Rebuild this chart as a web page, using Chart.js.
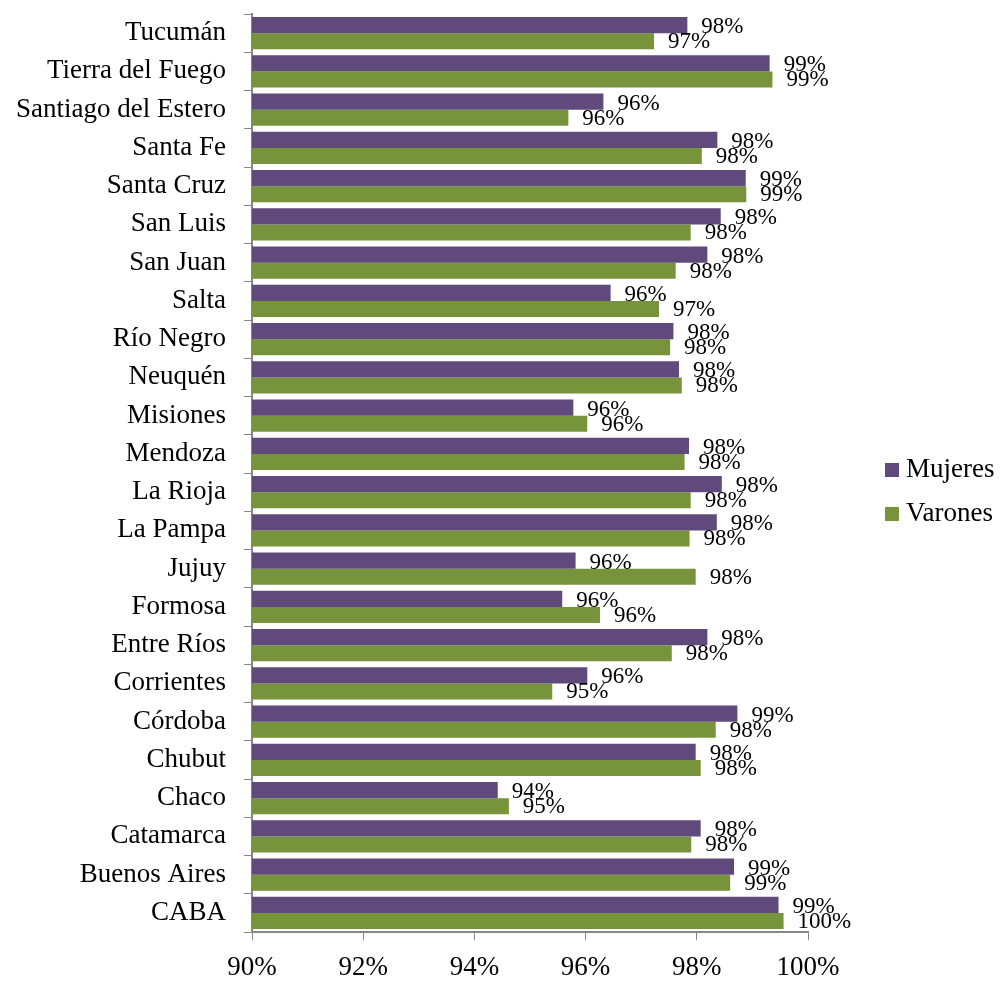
<!DOCTYPE html>
<html>
<head>
<meta charset="utf-8">
<title>Provincias</title>
<script src="https://cdn.jsdelivr.net/npm/chart.js@4.4.1/dist/chart.umd.min.js"></script>
<style>
  html, body { margin: 0; padding: 0; background: #fff; }
  #wrap { width: 1000px; height: 981px; }
</style>
</head>
<body>
<div id="wrap"><canvas id="provChart"></canvas></div>
<script>
const provinces = [
  'Tucumán', 'Tierra del Fuego', 'Santiago del Estero', 'Santa Fe', 'Santa Cruz',
  'San Luis', 'San Juan', 'Salta', 'Río Negro', 'Neuquén', 'Misiones', 'Mendoza',
  'La Rioja', 'La Pampa', 'Jujuy', 'Formosa', 'Entre Ríos', 'Corrientes',
  'Córdoba', 'Chubut', 'Chaco', 'Catamarca', 'Buenos Aires', 'CABA'
];
const mujeres = [
  97.83, 99.31, 96.32, 98.37, 98.88, 98.43, 98.19, 96.45, 97.58, 97.68, 95.78, 97.86,
  98.45, 98.36, 95.82, 95.58, 98.19, 96.03, 98.73, 97.98, 94.42, 98.07, 98.67, 99.47
];
const varones = [
  97.23, 99.36, 95.69, 98.09, 98.89, 97.89, 97.62, 97.32, 97.52, 97.73, 96.03, 97.78,
  97.89, 97.87, 97.98, 96.26, 97.55, 95.40, 98.34, 98.07, 94.62, 97.90, 98.60, 99.56
];
const xTicks = [90, 92, 94, 96, 98, 100];

const serif = '"Liberation Serif", "Times New Roman", serif';
const axisGrey = '#868686';

// percentages past the bar ends, plus the legend on the right
const barLabels = {
  id: 'barLabels',
  afterDatasetsDraw(chart) {
    const { ctx, chartArea } = chart;
    ctx.save();
    ctx.font = '23px ' + serif;
    ctx.fillStyle = '#000';
    ctx.textBaseline = 'middle';
    ctx.textAlign = 'left';
    chart.data.datasets.forEach((ds, i) => {
      const meta = chart.getDatasetMeta(i);
      const dy = i === 0 ? 2 : 1;
      meta.data.forEach((bar, j) => {
        ctx.fillText(Math.round(ds.data[j]) + '%', bar.x + 14, bar.y + dy);
      });
    });

    const lx = chartArea.right + 77;
    const midY = (chartArea.top + chartArea.bottom) / 2 + 19;
    ctx.font = '27px ' + serif;
    chart.data.datasets.forEach((ds, i) => {
      const cy = midY - 22 + i * 44;
      ctx.fillStyle = ds.backgroundColor;
      ctx.fillRect(lx, cy - 7, 14, 14);
      ctx.fillStyle = '#000';
      ctx.fillText(ds.label, lx + 21, cy);
    });
    ctx.restore();
  }
};

new Chart(document.getElementById('provChart'), {
  type: 'bar',
  data: {
    labels: provinces,
    datasets: [
      { label: 'Mujeres', data: mujeres, backgroundColor: '#604a7b' },
      { label: 'Varones', data: varones, backgroundColor: '#77933c' }
    ]
  },
  options: {
    indexAxis: 'y',
    responsive: true,
    maintainAspectRatio: false,
    animation: false,
    layout: { padding: { top: 14, right: 192, bottom: 0, left: 0 } },
    datasets: {
      bar: { categoryPercentage: 0.837, barPercentage: 1 }
    },
    plugins: {
      legend: { display: false },
      tooltip: { enabled: false }
    },
    scales: {
      x: {
        min: 90,
        max: 100,
        afterBuildTicks: scale => { scale.ticks = xTicks.map(v => ({ value: v })); },
        afterFit: scale => {
          scale.height = 49;
          scale.paddingLeft = 0;
          scale.paddingRight = 0;
        },
        ticks: {
          color: '#000',
          padding: 14,
          font: { size: 27, family: serif, lineHeight: 1 },
          callback: v => v + '%'
        },
        grid: { drawOnChartArea: false, drawTicks: true, tickLength: 8, color: axisGrey },
        border: { color: axisGrey, width: 2 }
      },
      y: {
        afterFit: scale => {
          scale.width = 252;
          scale.paddingTop = 0;
          scale.paddingBottom = 0;
        },
        ticks: {
          color: '#000',
          padding: 18,
          font: { size: 27, family: serif },
          autoSkip: false
        },
        grid: { drawOnChartArea: false, drawTicks: true, tickLength: 8, offset: true, color: axisGrey },
        border: { color: axisGrey, width: 2 }
      }
    }
  },
  plugins: [barLabels]
});
</script>
</body>
</html>
